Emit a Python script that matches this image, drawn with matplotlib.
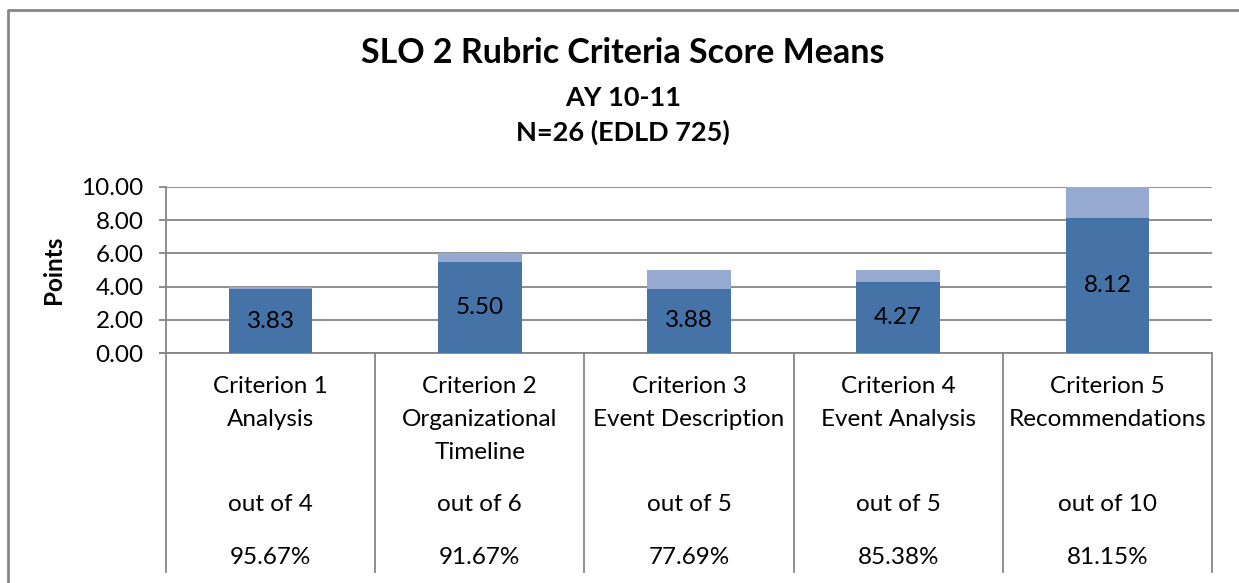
import matplotlib.pyplot as plt
from matplotlib.lines import Line2D
import numpy as np

# donnees du graphique
criteres = ['Criterion 1\nAnalysis', 'Criterion 2\nOrganizational\nTimeline',
            'Criterion 3\nEvent Description', 'Criterion 4\nEvent Analysis',
            'Criterion 5\nRecommendations']
sur = [4, 6, 5, 5, 10]
moyennes = [3.83, 5.50, 3.88, 4.27, 8.12]
pourcents = ['95.67%', '91.67%', '77.69%', '85.38%', '81.15%']
yticks = [0, 2, 4, 6, 8, 10]

plt.rcParams['font.family'] = ['Lato', 'DejaVu Sans']
taille = 17.5

W, H = 1239, 583
fig = plt.figure(figsize=(W / 100, H / 100), dpi=100)
fig.patch.set_facecolor('white')

# zone de trace (pixels mesures sur l'image)
x0, x1, y0, y1 = 166, 1212, 353, 187
ax = fig.add_axes([x0 / W, 1 - y0 / H, (x1 - x0) / W, (y0 - y1) / H])

gris = '#868686'
fonce = '#4572A7'
clair = '#96A9D1'

x = np.arange(len(criteres))
reste = [s - m for s, m in zip(sur, moyennes)]
ax.bar(x, moyennes, width=0.4, color=fonce, zorder=3)
ax.bar(x, reste, bottom=moyennes, width=0.4, color=clair, zorder=3)

for xi, m in zip(x, moyennes):
    ax.text(xi, m / 2, '%.2f' % m, ha='center', va='center', fontsize=taille, zorder=4)

ax.set_xlim(-0.5, len(criteres) - 0.5)
ax.set_ylim(0, 10)
ax.set_yticks(yticks)
ax.set_yticklabels(['%.2f' % v for v in yticks], fontsize=taille)
ax.set_xticks([])
ax.yaxis.grid(True, color=gris, linewidth=1.3, zorder=0)
ax.tick_params(axis='y', length=5, color=gris, width=1.3, pad=11)
for s in ['top', 'right']:
    ax.spines[s].set_visible(False)
ax.spines['left'].set_color(gris)
ax.spines['bottom'].set_color(gris)
ax.spines['left'].set_linewidth(1.3)
ax.spines['bottom'].set_linewidth(1.3)
ax.set_ylabel('Points', fontsize=taille, fontweight='bold', labelpad=12)

# tableau sous l'axe
tr = ax.get_xaxis_transform()
def fy(px):
    return (y0 - px) / (y0 - y1)

for i in range(len(criteres) + 1):
    ax.add_line(Line2D([i - 0.5, i - 0.5], [fy(353), fy(572)], transform=tr,
                       color=gris, linewidth=1.3, clip_on=False))
ax.add_line(Line2D([-0.53, -0.5], [0, 0], transform=tr, color=gris,
                   linewidth=1.3, clip_on=False))

for xi, c, s, p in zip(x, criteres, sur, pourcents):
    ax.text(xi, fy(376), c, transform=tr, ha='center', va='top', fontsize=taille,
            linespacing=1.7)
    ax.text(xi, fy(504), 'out of %d' % s, transform=tr, ha='center', va='center',
            fontsize=taille)
    ax.text(xi, fy(557), p, transform=tr, ha='center', va='center', fontsize=taille)

# titres
fig.text(623 / W, 1 - 53 / H, 'SLO 2 Rubric Criteria Score Means', ha='center',
         va='center', fontsize=24.5, fontweight='bold')
fig.text(623 / W, 1 - 98 / H, 'AY 10-11', ha='center', va='center', fontsize=19.5,
         fontweight='bold')
fig.text(623 / W, 1 - 132 / H, 'N=26 (EDLD 725)', ha='center', va='center',
         fontsize=19.5, fontweight='bold')

# cadre exterieur
fig.add_artist(Line2D([8 / W, 8 / W, 1.0], [0.0, 1 - 10 / H, 1 - 10 / H],
                      transform=fig.transFigure, color=gris, linewidth=2))

plt.savefig('out.png', dpi=100)
